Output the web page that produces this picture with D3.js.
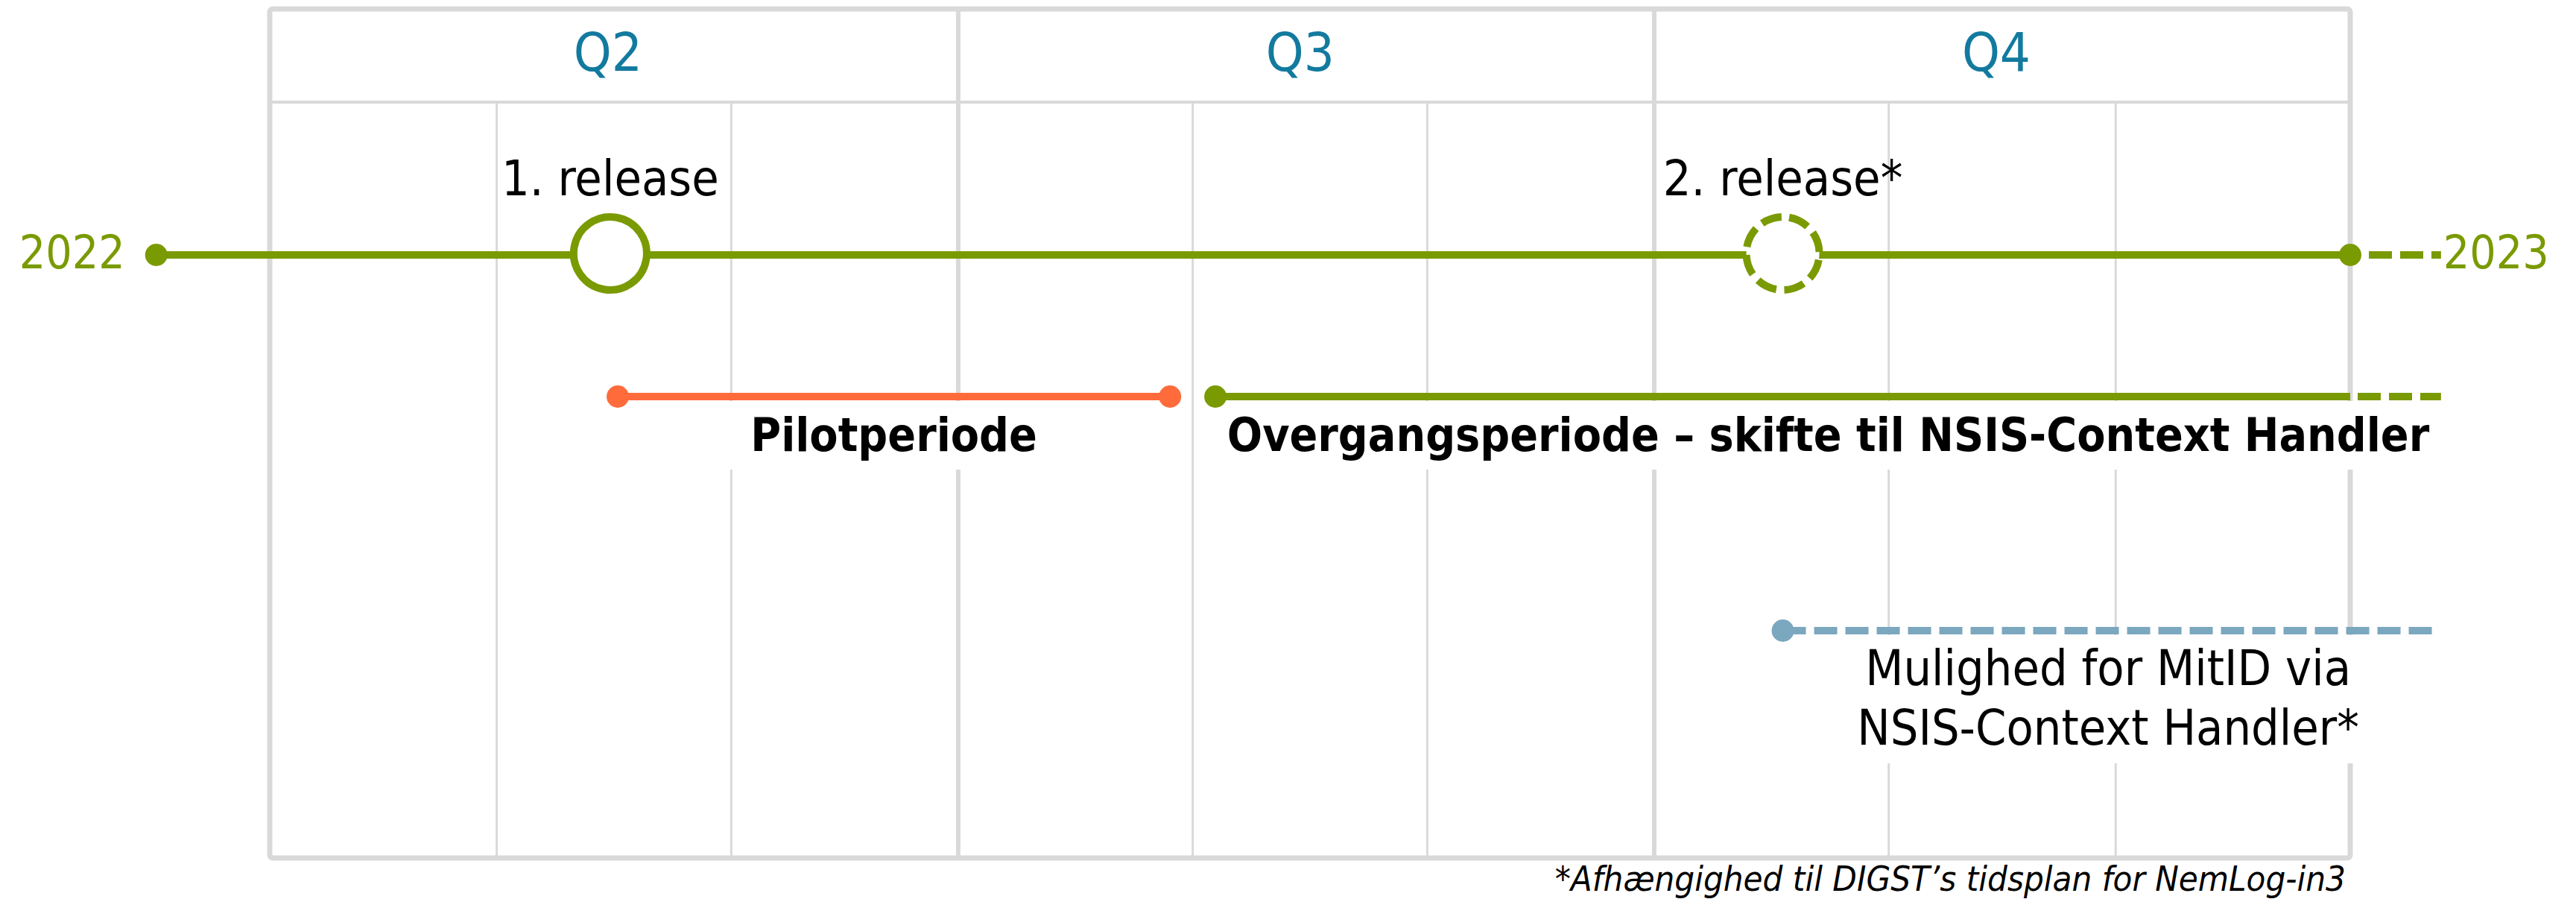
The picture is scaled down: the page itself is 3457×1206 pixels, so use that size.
<!DOCTYPE html>
<html>
<head>
<meta charset="utf-8">
<script src="https://cdn.jsdelivr.net/npm/d3@7"></script>
<style>
  html, body { margin: 0; padding: 0; background: #fff; }
  svg text { font-family: "DejaVu Sans Condensed", "DejaVu Sans", sans-serif; font-stretch: condensed; }
</style>
</head>
<body>
<div id="chart"></div>
<script>
// quarters shown in the header
var quarterLabels = ["Q2", "Q3", "Q4"];
var quarterStarts = ["2022-04-01", "2022-07-01", "2022-10-01", "2023-01-01"];

// main timeline: start, end of year, where the dashed tail stops
var yearLabels = ["2022", "2023"];
var timelineDates = ["2022-03-17", "2023-01-01", "2023-01-13"];

// releases on the main timeline
var milestoneNames = ["1. release", "2. release*"];
var milestoneDates = ["2022-05-16", "2022-10-18"];
var milestoneFixed = [true, false];

// periods below the timeline
var periodNames = [
  ["Pilotperiode"],
  ["Overgangsperiode \u2013 skifte til NSIS-Context Handler"],
  ["Mulighed for MitID via", "NSIS-Context Handler*"]
];
var periodStarts = ["2022-05-17", "2022-08-04", "2022-10-18"];
var periodEnds = ["2022-07-29", "2023-01-01", null];
var periodOpenEnds = [null, "2023-01-13", "2023-01-12"];
var periodLanes = [1, 1, 2];
var periodBold = [true, true, false];

var footnote = "*Afh\u00e6ngighed til DIGST\u2019s tidsplan for NemLog-in3";

//////////////////////////////////////////////////////////////////////////////

var width = 3457;
var height = 1206;
var frame = { left: 362, right: 3154, top: 12, bottom: 1151, header: 137 };

var green = "#7a9a01";
var orange = "#ff6b3b";
var blue = "#7ba7bf";
var teal = "#137a9f";
var grid = "#d9d9d9";
var periodColors = [orange, green, blue];
var dash = "31 11";

var parse = d3.utcParse("%Y-%m-%d");

var x = d3.scaleUtc()
  .domain([parse(quarterStarts[0]), parse(quarterStarts[quarterStarts.length - 1])])
  .range([frame.left, frame.right]);

var laneY = d3.scaleOrdinal().domain([0, 1, 2]).range([342, 532, 846]);

var svg = d3.select("#chart").append("svg")
  .attr("width", width)
  .attr("height", height);

svg.append("rect").attr("width", width).attr("height", height).attr("fill", "#fff");

//////////////////////////////////////////////////////////////////////////////
// grid

var qDates = quarterStarts.map(parse);
var monthLines = x.ticks(d3.utcMonth.every(1)).filter(function(d) {
  return qDates.every(function(q) { return +q !== +d; });
});

svg.append("g").selectAll("line")
  .data(monthLines)
  .enter().append("line")
  .attr("x1", function(d) { return x(d); })
  .attr("x2", function(d) { return x(d); })
  .attr("y1", frame.header)
  .attr("y2", frame.bottom)
  .attr("stroke", grid)
  .attr("stroke-width", 3);

svg.append("g").selectAll("line")
  .data(qDates.slice(1, -1))
  .enter().append("line")
  .attr("x1", function(d) { return x(d); })
  .attr("x2", function(d) { return x(d); })
  .attr("y1", frame.top)
  .attr("y2", frame.bottom)
  .attr("stroke", grid)
  .attr("stroke-width", 6);

svg.append("line")
  .attr("x1", frame.left).attr("x2", frame.right)
  .attr("y1", frame.header).attr("y2", frame.header)
  .attr("stroke", grid).attr("stroke-width", 4);

svg.append("rect")
  .attr("x", frame.left).attr("y", frame.top)
  .attr("width", frame.right - frame.left)
  .attr("height", frame.bottom - frame.top)
  .attr("rx", 4)
  .attr("fill", "none")
  .attr("stroke", grid)
  .attr("stroke-width", 7);

svg.append("g").selectAll("text")
  .data(quarterLabels)
  .enter().append("text")
  .attr("x", function(d, i) { return (x(qDates[i]) + x(qDates[i + 1])) / 2 - 8; })
  .attr("y", 95)
  .attr("text-anchor", "middle")
  .attr("font-size", 72)
  .attr("fill", teal)
  .text(function(d) { return d; });

//////////////////////////////////////////////////////////////////////////////
// periods

var periods = periodNames.map(function(lines, i) {
  var p = {
    lines: lines,
    start: parse(periodStarts[i]),
    end: periodEnds[i] ? parse(periodEnds[i]) : null,
    open: periodOpenEnds[i] ? parse(periodOpenEnds[i]) : null,
    lane: periodLanes[i],
    bold: periodBold[i],
    color: periodColors[i]
  };
  p.x0 = x(p.start);
  p.x1 = x(p.open || p.end);
  p.y = laneY(p.lane);
  return p;
});

// white boxes behind the labels hide the grid
svg.append("g").selectAll("rect")
  .data(periods)
  .enter().append("rect")
  .attr("x", function(d) { return d.x0; })
  .attr("y", function(d) { return d.y + 6; })
  .attr("width", function(d) { return d.x1 - d.x0 + 6; })
  .attr("height", function(d) { return 70 + 80 * (d.lines.length - 1) + 22; })
  .attr("fill", "#fff");

var pg = svg.append("g").selectAll("g")
  .data(periods)
  .enter().append("g");

pg.filter(function(d) { return d.end; })
  .append("line")
  .attr("x1", function(d) { return d.x0; })
  .attr("x2", function(d) { return x(d.end); })
  .attr("y1", function(d) { return d.y; })
  .attr("y2", function(d) { return d.y; })
  .attr("stroke", function(d) { return d.color; })
  .attr("stroke-width", 10);

pg.filter(function(d) { return d.open; })
  .append("line")
  .attr("x1", function(d) { return d.end ? x(d.end) + 10 : d.x0; })
  .attr("x2", function(d) { return x(d.open); })
  .attr("y1", function(d) { return d.y; })
  .attr("y2", function(d) { return d.y; })
  .attr("stroke", function(d) { return d.color; })
  .attr("stroke-width", 10)
  .attr("stroke-dasharray", dash);

pg.append("circle")
  .attr("cx", function(d) { return d.x0; })
  .attr("cy", function(d) { return d.y; })
  .attr("r", 15)
  .attr("fill", function(d) { return d.color; });

pg.filter(function(d) { return d.end && !d.open; })
  .append("circle")
  .attr("cx", function(d) { return x(d.end); })
  .attr("cy", function(d) { return d.y; })
  .attr("r", 15)
  .attr("fill", function(d) { return d.color; });

pg.each(function(d) {
  var g = d3.select(this);
  d.lines.forEach(function(line, j) {
    g.append("text")
      .attr("x", (d.x0 + d.x1) / 2)
      .attr("y", d.y + 73 + 80 * j)
      .attr("text-anchor", "middle")
      .attr("font-size", d.bold ? 62 : 66)
      .attr("font-weight", d.bold ? "bold" : "normal")
      .attr("fill", "#000")
      .text(line);
  });
});

//////////////////////////////////////////////////////////////////////////////
// main timeline

var t = timelineDates.map(parse);
var mainY = laneY(0);

svg.append("line")
  .attr("x1", x(t[0])).attr("x2", x(t[1]))
  .attr("y1", mainY).attr("y2", mainY)
  .attr("stroke", green).attr("stroke-width", 10);

svg.append("line")
  .attr("x1", x(t[1]) + 25).attr("x2", x(t[2]))
  .attr("y1", mainY).attr("y2", mainY)
  .attr("stroke", green).attr("stroke-width", 10)
  .attr("stroke-dasharray", dash);

svg.append("g").selectAll("circle")
  .data([t[0], t[1]])
  .enter().append("circle")
  .attr("cx", function(d) { return x(d); })
  .attr("cy", mainY)
  .attr("r", 15)
  .attr("fill", green);

svg.append("text")
  .attr("x", x(t[0]) - 42).attr("y", mainY + 18)
  .attr("text-anchor", "end")
  .attr("font-size", 62)
  .attr("fill", green)
  .text(yearLabels[0]);

svg.append("text")
  .attr("x", x(t[2]) + 3).attr("y", mainY + 18)
  .attr("text-anchor", "start")
  .attr("font-size", 62)
  .attr("fill", green)
  .text(yearLabels[1]);

var circ = 2 * Math.PI * 49;

var ms = svg.append("g").selectAll("g")
  .data(milestoneNames)
  .enter().append("g")
  .attr("transform", function(d, i) {
    return "translate(" + x(parse(milestoneDates[i])) + "," + (mainY - 2) + ")";
  });

ms.append("circle")
  .attr("r", 49)
  .attr("fill", "#fff")
  .attr("stroke", green)
  .attr("stroke-width", 10)
  .attr("stroke-dasharray", function(d, i) {
    return milestoneFixed[i] ? null : (circ / 8 * 0.72) + " " + (circ / 8 * 0.28);
  })
  .attr("transform", "rotate(-80)");

ms.append("text")
  .attr("y", -78)
  .attr("text-anchor", "middle")
  .attr("font-size", 66)
  .attr("fill", "#000")
  .text(function(d) { return d; });

//////////////////////////////////////////////////////////////////////////////

svg.append("text")
  .attr("x", frame.right - 6)
  .attr("y", 1195)
  .attr("text-anchor", "end")
  .attr("font-size", 47)
  .attr("font-style", "italic")
  .attr("fill", "#000")
  .text(footnote);
</script>
</body>
</html>
